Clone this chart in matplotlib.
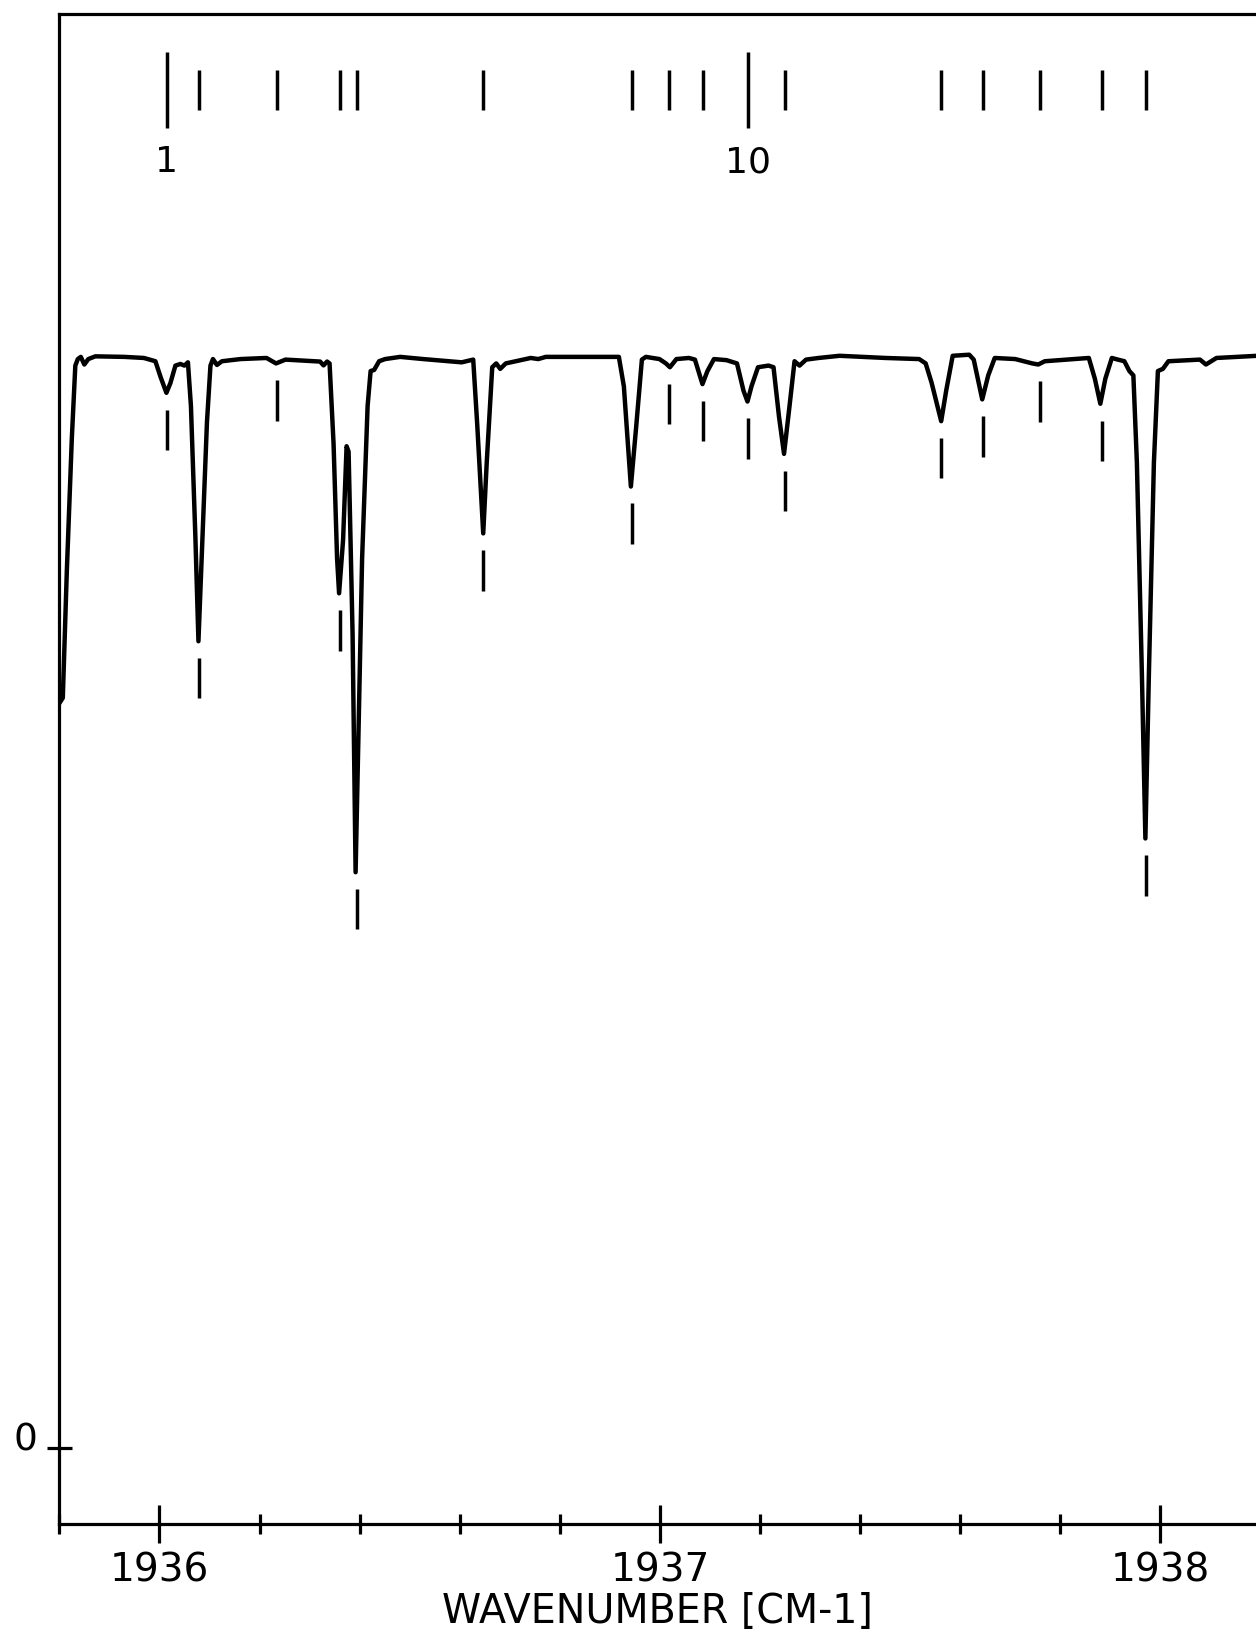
import numpy as np
import matplotlib
matplotlib.use("Agg")
import matplotlib.pyplot as plt
from matplotlib.transforms import ScaledTranslation

# ---------------- data ----------------
wavenumber = [
    1935.800, 1935.807, 1935.815, 1935.825, 1935.832, 1935.837, 1935.843, 1935.850,
    1935.858, 1935.872, 1935.930, 1935.969, 1935.992, 1936.002, 1936.014, 1936.022,
    1936.032, 1936.042, 1936.050, 1936.057, 1936.063, 1936.072, 1936.078, 1936.086,
    1936.095, 1936.102, 1936.107, 1936.115, 1936.125, 1936.162, 1936.214, 1936.233,
    1936.252, 1936.321, 1936.328, 1936.335, 1936.340, 1936.348, 1936.355, 1936.359,
    1936.367, 1936.374, 1936.378, 1936.386, 1936.392, 1936.397, 1936.405, 1936.416,
    1936.422, 1936.429, 1936.439, 1936.451, 1936.481, 1936.527, 1936.604, 1936.627,
    1936.635, 1936.647, 1936.654, 1936.665, 1936.673, 1936.681, 1936.692, 1936.742,
    1936.757, 1936.772, 1936.918, 1936.928, 1936.942, 1936.953, 1936.964, 1936.972,
    1936.999, 1937.012, 1937.020, 1937.033, 1937.058, 1937.070, 1937.085, 1937.095,
    1937.108, 1937.133, 1937.154, 1937.167, 1937.175, 1937.183, 1937.196, 1937.217,
    1937.227, 1937.238, 1937.248, 1937.259, 1937.269, 1937.279, 1937.292, 1937.317,
    1937.359, 1937.451, 1937.518, 1937.531, 1937.543, 1937.562, 1937.572, 1937.585,
    1937.618, 1937.627, 1937.644, 1937.656, 1937.669, 1937.710, 1937.744, 1937.756,
    1937.769, 1937.857, 1937.869, 1937.880, 1937.890, 1937.903, 1937.915, 1937.928,
    1937.938, 1937.946, 1937.953, 1937.963, 1937.970, 1937.977, 1937.987, 1937.995,
    1938.005, 1938.016, 1938.079, 1938.091, 1938.112, 1938.194,
]
signal = [
    68.3, 68.8, 80.4, 92.6, 99.3, 99.9, 100.1, 99.4,
    99.9, 100.15, 100.1, 100.0, 99.7, 98.3, 96.8, 97.7,
    99.3, 99.45, 99.3, 99.6, 95.6, 83.4, 74.0, 83.4,
    94.1, 99.3, 99.9, 99.36, 99.7, 99.9, 100.0, 99.5,
    99.85, 99.67, 99.32, 99.67, 99.5, 92.1, 81.6, 78.4,
    83.3, 91.9, 91.4, 74.6, 52.8, 64.0, 81.6, 95.6,
    98.8, 98.9, 99.7, 99.9, 100.1, 99.9, 99.6, 99.85,
    93.9, 83.9, 90.4, 99.15, 99.5, 99.0, 99.5, 100.0,
    99.9, 100.1, 100.1, 97.4, 88.2, 93.9, 99.85, 100.1,
    99.9, 99.5, 99.15, 99.9, 100.0, 99.85, 97.6, 98.8,
    99.9, 99.8, 99.5, 97.0, 96.0, 97.4, 99.15, 99.3,
    99.15, 94.6, 91.2, 95.6, 99.7, 99.3, 99.85, 100.0,
    100.2, 100.0, 99.9, 99.5, 97.7, 94.2, 97.0, 100.2,
    100.3, 99.85, 96.2, 98.4, 100.0, 99.9, 99.5, 99.4,
    99.7, 100.0, 98.1, 95.8, 98.1, 100.0, 99.85, 99.7,
    98.8, 98.4, 90.4, 71.0, 55.9, 71.0, 90.4, 98.8,
    99.0, 99.7, 99.85, 99.4, 100.0, 100.2,
]
line_positions = [
    1936.015, 1936.080, 1936.235, 1936.361, 1936.394, 1936.647, 1936.944, 1937.019,
    1937.087, 1937.176, 1937.249, 1937.561, 1937.646, 1937.759, 1937.883, 1937.972,
]
line_numbers = list(range(1, len(line_positions) + 1))
labelled_lines = [1, 10]

x_major = [1936, 1937, 1938]
x_major_labels = ["1936", "1937", "1938"]
x_minor = [1935.8, 1936.2, 1936.4, 1936.6, 1936.8, 1937.2, 1937.4, 1937.6, 1937.8, 1938.0]
y_ticks = [0]
y_tick_labels = ["0"]
x_label = "WAVENUMBER [CM-1]"

# ---------------- figure ----------------
W, H = 1256, 1633
fig = plt.figure(figsize=(W / 100, H / 100), dpi=100)
ax_left, ax_top, ax_bottom = 59.3, 15.0, 1525.0
ax = fig.add_axes([ax_left / W, 1 - ax_bottom / H, 1 - ax_left / W, (ax_bottom - ax_top) / H])
ax.set_xlim(1935.8, 1938.191)
ax.set_ylim(-7.02, 131.57)

LW = 2.3
for s in ["top", "left", "bottom"]:
    ax.spines[s].set_linewidth(LW)
ax.spines["right"].set_visible(False)

# spectrum trace
ax.plot(wavenumber, signal, color="black", lw=3.2,
        solid_joinstyle="round", solid_capstyle="round")

# markers below each assigned line
wn = np.array(wavenumber)
sg = np.array(signal)
gap, length = 1.55, 3.7
for p in line_positions:
    m = (wn >= p - 0.007) & (wn <= p + 0.007)
    vmin = sg[m].min() if m.any() else np.interp(p, wn, sg)
    ax.vlines(p, vmin - gap - length, vmin - gap, color="black", lw=2.5)

# top stick index with line numbers
for n, p in zip(line_numbers, line_positions):
    if n in labelled_lines:
        ax.vlines(p, 121.08, 128.11, color="black", lw=2.5)
        ax.text(p, 119.6, str(n), ha="center", va="top", fontsize=26,
                family="DejaVu Sans")
    else:
        ax.vlines(p, 122.79, 126.46, color="black", lw=2.5)

# axes ticks
ax.set_xticks(x_major)
ax.set_xticklabels(x_major_labels, fontsize=28, family="DejaVu Sans")
ax.set_xticks(x_minor, minor=True)
ax.tick_params(axis="x", which="major", direction="inout", length=28, width=LW, pad=5)
ax.tick_params(axis="x", which="minor", direction="inout", length=15, width=LW)
ax.set_yticks(y_ticks)
ax.set_yticklabels(y_tick_labels, fontsize=27, family="DejaVu Sans")
ax.tick_params(axis="y", which="major", direction="inout", length=18, width=LW, pad=7)
ax.tick_params(axis="y", which="minor", left=False)
for lab in ax.get_yticklabels():
    lab.set_transform(lab.get_transform() + ScaledTranslation(0, 12 / 100, fig.dpi_scale_trans))

ax.set_xlabel(x_label, fontsize=28.5, family="DejaVu Sans")
ax.xaxis.set_label_coords(0.5, -(1592 - ax_bottom) / (ax_bottom - ax_top))

fig.savefig("out.png", dpi=100)
